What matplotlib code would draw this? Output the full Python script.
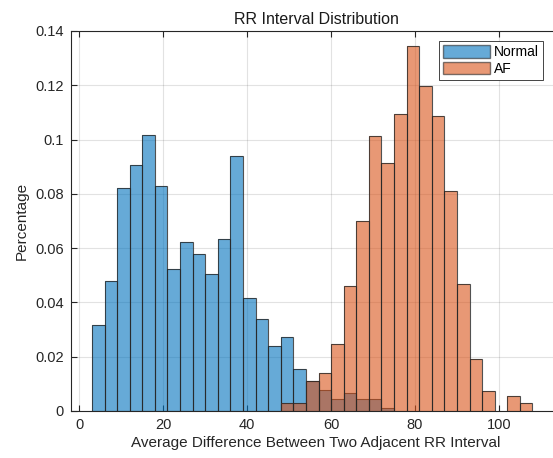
import matplotlib
matplotlib.use("Agg")
import matplotlib.pyplot as plt
from matplotlib.ticker import FuncFormatter
from matplotlib.patches import Patch

plt.rcParams['font.family'] = ['Liberation Sans', 'DejaVu Sans']

# histogram bins (width 3), left edges
bin_width = 3
normal_bins = [3, 6, 9, 12, 15, 18, 21, 24, 27, 30, 33, 36, 39, 42, 45, 48,
               51, 54, 57, 60, 63, 66, 69, 72]
normal_vals = [0.0318, 0.0480, 0.0821, 0.0908, 0.1016, 0.0830, 0.0524, 0.0624,
               0.0579, 0.0503, 0.0635, 0.0941, 0.0415, 0.0338, 0.0239, 0.0272,
               0.0154, 0.0111, 0.0077, 0.0044, 0.0066, 0.0044, 0.0044, 0.0011]

af_bins = [48, 51, 54, 57, 60, 63, 66, 69, 72, 75, 78, 81, 84, 87, 90, 93,
           96, 99, 102, 105]
af_vals = [0.0028, 0.0028, 0.0111, 0.0139, 0.0248, 0.0460, 0.0700, 0.1015,
           0.0912, 0.1095, 0.1344, 0.1198, 0.1087, 0.0810, 0.0468, 0.0192,
           0.0074, 0.0, 0.0056, 0.0028]

labels = ['Normal', 'AF']
x_ticks = [0, 20, 40, 60, 80, 100]
y_ticks = [0, 0.02, 0.04, 0.06, 0.08, 0.1, 0.12, 0.14]

blue = (0.0, 0.447, 0.741)
orange = (0.85, 0.325, 0.098)
edge = (0.15, 0.15, 0.15)

fig = plt.figure(figsize=(5.53, 4.58), dpi=100)
# right edge of the axes box falls just outside the picture, as in the original
ax = fig.add_axes([71/553, 47/458, 490/553, 380/458])

ax.bar(normal_bins, normal_vals, width=bin_width, align='edge', color=blue,
       alpha=0.6, edgecolor='none', label=labels[0], zorder=2)
ax.bar(normal_bins, normal_vals, width=bin_width, align='edge', fill=False,
       edgecolor=edge, linewidth=0.8, alpha=0.8, zorder=2)
ax.bar(af_bins, af_vals, width=bin_width, align='edge', color=orange,
       alpha=0.6, edgecolor='none', label=labels[1], zorder=3)
ax.bar([b for b, v in zip(af_bins, af_vals) if v > 0],
       [v for v in af_vals if v > 0], width=bin_width, align='edge', fill=False,
       edgecolor=edge, linewidth=0.8, alpha=0.8, zorder=3)

ax.set_xlim(-2, 114.8)
ax.set_ylim(0, 0.14)
ax.set_xticks(x_ticks)
ax.set_yticks(y_ticks)
ax.yaxis.set_major_formatter(FuncFormatter(lambda v, p: '%g' % v))
ax.grid(True, color=(0.15, 0.15, 0.15), alpha=0.13, linewidth=0.8, zorder=0)
ax.set_axisbelow(True)
ax.tick_params(direction='in', length=4, width=0.8, top=True, right=True,
               labelsize=10.5, colors=(0.15, 0.15, 0.15), pad=5)
for s in ax.spines.values():
    s.set_color((0.15, 0.15, 0.15))
    s.set_linewidth(0.8)

ax.set_title('RR Interval Distribution', fontsize=11.5, color=(0.1, 0.1, 0.1), pad=5)
ax.set_xlabel('Average Difference Between Two Adjacent RR Interval', fontsize=11,
              color=(0.15, 0.15, 0.15), labelpad=3)
ax.set_ylabel('Percentage', fontsize=11, color=(0.15, 0.15, 0.15), labelpad=5)

handles = [Patch(facecolor=blue, alpha=0.6, edgecolor=edge),
           Patch(facecolor=orange, alpha=0.6, edgecolor=edge)]
# legend box right edge at ~543 px, top at ~41 px
leg = ax.legend(handles, labels, loc='upper right',
                bbox_to_anchor=((543 - 71) / 490, (411 - 41) / 380),
                borderaxespad=0, fontsize=10, handlelength=3.4, handleheight=1.0,
                handletextpad=0.25, labelspacing=0.2, borderpad=0.3,
                fancybox=False, framealpha=1, edgecolor=(0.15, 0.15, 0.15))
leg.get_frame().set_linewidth(0.6)

fig.savefig('out.png', dpi=100, facecolor='white')
